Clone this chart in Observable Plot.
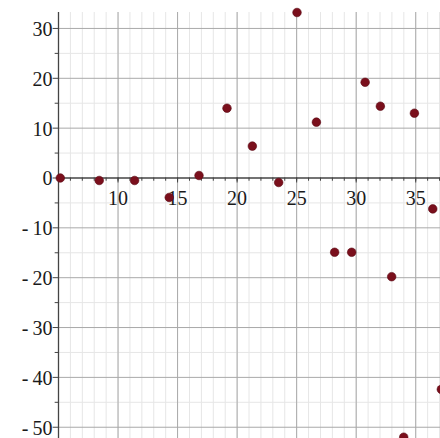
<!DOCTYPE html>
<html>
<head>
<meta charset="utf-8">
<script src="https://cdn.jsdelivr.net/npm/d3@7"></script>
<script src="https://cdn.jsdelivr.net/npm/@observablehq/plot@0.6"></script>
<style>
  html, body { margin: 0; padding: 0; background: #fff; overflow: hidden; }
  #chart svg text { font-family: "Liberation Serif", "Times New Roman", serif; }
</style>
</head>
<body>
<div id="chart"></div>
<script>
// Data
const xs = [5.15, 8.42, 11.39, 14.30, 16.80, 19.15, 21.28, 23.49, 25.03, 26.66, 28.19, 29.62, 30.75, 32.03, 32.98, 33.99, 34.89, 36.43, 37.15];
const ys = [0, -0.5, -0.5, -3.9, 0.5, 14.0, 6.4, -0.9, 33.2, 11.2, -14.9, -14.9, 19.2, 14.4, -19.8, -52.0, 13.0, -6.2, -42.4];

const xTickLabels = [10, 15, 20, 25, 30, 35];
const yTickLabels = [30, 20, 10, 0, -10, -20, -30, -40, -50];
const xMinor = d3.range(6, 38, 1);
const xMajor = [10, 15, 20, 25, 30, 35];
const yMinor = [25, 15, 5, -5, -15, -25, -35, -45];
const yMajor = [30, 20, 10, -10, -20, -30, -40, -50];

const points = xs.map((x, i) => ({x, y: ys[i]}));
const fmt = d => d < 0 ? "-\u2009" + Math.abs(d) : String(d);
const font = "Liberation Serif";

const chart = Plot.plot({
  width: 440,
  height: 438,
  marginLeft: 58,
  marginRight: 0,
  marginTop: 12,
  marginBottom: 0,
  x: {domain: [5, 37.08], axis: null},
  y: {domain: [-52.26, 33.2], axis: null},
  style: {background: "#fff", overflow: "hidden", fontFamily: "Liberation Serif, serif"},
  marks: [
    Plot.ruleX(xMinor, {stroke: "#e6e6e6", strokeWidth: 1}),
    Plot.ruleY(yMinor, {stroke: "#e6e6e6", strokeWidth: 1}),
    Plot.ruleX(xMajor, {stroke: "#a9a9a9", strokeWidth: 1}),
    Plot.ruleY(yMajor, {stroke: "#a9a9a9", strokeWidth: 1}),
    // axes
    Plot.ruleY([0], {stroke: "#444", strokeWidth: 1.3}),
    Plot.ruleX([5], {stroke: "#444", strokeWidth: 1.3}),
    // x-axis ticks
    Plot.ruleX(xMinor, {y1: 0, y2: -0.65, stroke: "#444", strokeWidth: 1}),
    Plot.ruleX(xMajor, {y1: 0, y2: -1.0, stroke: "#444", strokeWidth: 1}),
    // y-axis ticks
    Plot.ruleY(yMinor, {x1: 4.72, x2: 5, stroke: "#444", strokeWidth: 1}),
    Plot.ruleY(yTickLabels, {x1: 4.55, x2: 5, stroke: "#444", strokeWidth: 1}),
    // labels
    Plot.text(xTickLabels, {x: d => d, y: 0, dy: 21, text: d => String(d), fontSize: 20, fontFamily: font, fill: "#1a1a1a", textAnchor: "middle"}),
    Plot.text(yTickLabels, {x: 5, y: d => d, dx: -6, dy: 1, text: fmt, fontSize: 20, fontFamily: font, fill: "#1a1a1a", textAnchor: "end"}),
    // points
    Plot.dot(points, {x: "x", y: "y", r: 4.3, fill: "#7a0f1c", stroke: "#5a0a14", strokeWidth: 0.6})
  ]
});

document.getElementById("chart").appendChild(chart);
</script>
</body>
</html>
